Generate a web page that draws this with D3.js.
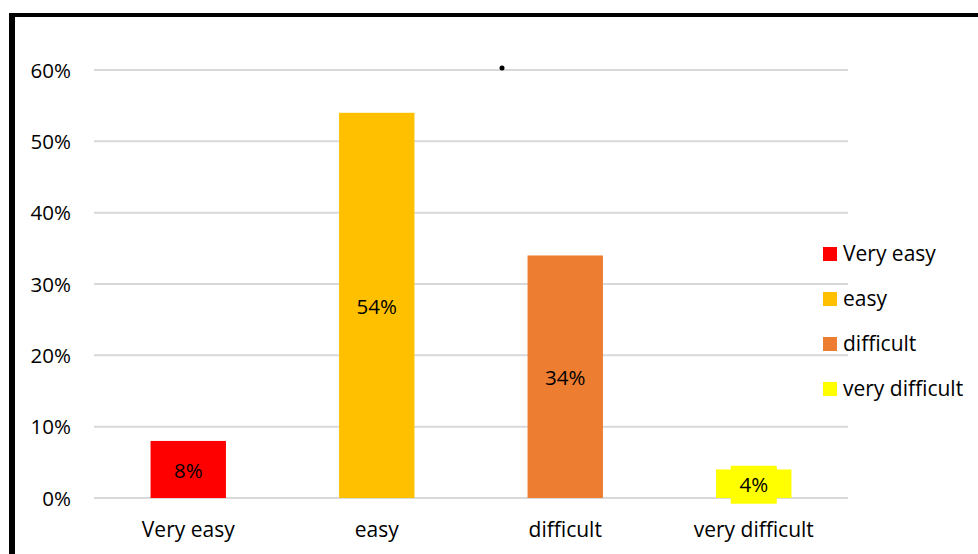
<!DOCTYPE html>
<html>
<head>
<meta charset="utf-8">
<script src="https://cdn.jsdelivr.net/npm/d3@7"></script>
<style>
  html, body { margin: 0; padding: 0; background: #fff; }
  svg { display: block; }
  text { font-family: "Open Sans", sans-serif; fill: #000; }
</style>
</head>
<body>
<svg id="chart" width="978" height="554"></svg>
<script>
const categories = ["Very easy", "easy", "difficult", "very difficult"];
const values = [0.08, 0.54, 0.34, 0.04];
const colors = ["#FF0000", "#FFC000", "#ED7D31", "#FFFF00"];
const yTicks = [0, 0.1, 0.2, 0.3, 0.4, 0.5, 0.6];

const svg = d3.select("#chart");
const W = 978, H = 554;
const plot = { left: 94, right: 848, top: 70, bottom: 498 };

// frame
svg.append("rect").attr("x", 9).attr("y", 13).attr("width", W - 9).attr("height", 4).attr("fill", "#000");
svg.append("rect").attr("x", 9).attr("y", 13).attr("width", 6).attr("height", H - 13).attr("fill", "#000");

const x = d3.scaleBand().domain(categories).range([plot.left, plot.right]).paddingInner(0.6).paddingOuter(0.3);
const y = d3.scaleLinear().domain([0, 0.6]).range([plot.bottom, plot.top]);
const fmt = d3.format(".0%");

// gridlines
svg.append("g").selectAll("line").data(yTicks).join("line")
  .attr("x1", plot.left).attr("x2", plot.right)
  .attr("y1", d => y(d)).attr("y2", d => y(d))
  .attr("stroke", "#D9D9D9").attr("stroke-width", 2);

// y axis labels
const yAxis = d3.axisLeft(y).tickValues(yTicks).tickFormat(fmt).tickSize(0).tickPadding(0);
const gy = svg.append("g").attr("transform", "translate(71,0)").call(yAxis);
gy.select(".domain").remove();
gy.selectAll("text").attr("font-size", 20.5).attr("font-family", "Open Sans, sans-serif").attr("fill", "#000").attr("dy", "0.35em");

// x axis labels
const xAxis = d3.axisBottom(x).tickSize(0).tickPadding(0);
const gx = svg.append("g").attr("transform", "translate(0,537)").call(xAxis);
gx.select(".domain").remove();
gx.selectAll("text").attr("font-size", 21).attr("font-family", "Open Sans, sans-serif").attr("fill", "#000").attr("dy", 0);

// bars
svg.append("g").selectAll("rect").data(categories).join("rect")
  .attr("x", d => x(d)).attr("width", x.bandwidth())
  .attr("y", (d, i) => y(values[i])).attr("height", (d, i) => y(0) - y(values[i]))
  .attr("fill", (d, i) => colors[i]);

// data labels (small bar gets a filled label box)
const lbl = svg.append("g");
categories.forEach((c, i) => {
  const cx = x(c) + x.bandwidth() / 2;
  const cy = (y(values[i]) + y(0)) / 2 + 1;
  if (values[i] < 0.05) {
    lbl.append("rect").attr("x", cx - 23).attr("y", cy - 19).attr("width", 46).attr("height", 38).attr("fill", colors[i]);
  }
  lbl.append("text").attr("x", cx).attr("y", cy).attr("dy", "0.35em")
    .attr("text-anchor", "middle").attr("font-size", 20.5).text(fmt(values[i]));
});

// stray dot
svg.append("circle").attr("cx", 502).attr("cy", 68).attr("r", 2.5).attr("fill", "#000");

// legend
const lg = svg.append("g").attr("transform", "translate(823,247)");
categories.forEach((c, i) => {
  const g = lg.append("g").attr("transform", `translate(0,${i * 45})`);
  g.append("rect").attr("width", 14).attr("height", 14).attr("fill", colors[i]);
  g.append("text").attr("x", 20).attr("y", 7).attr("dy", "0.35em").attr("font-size", 21).text(c);
});
</script>
</body>
</html>
